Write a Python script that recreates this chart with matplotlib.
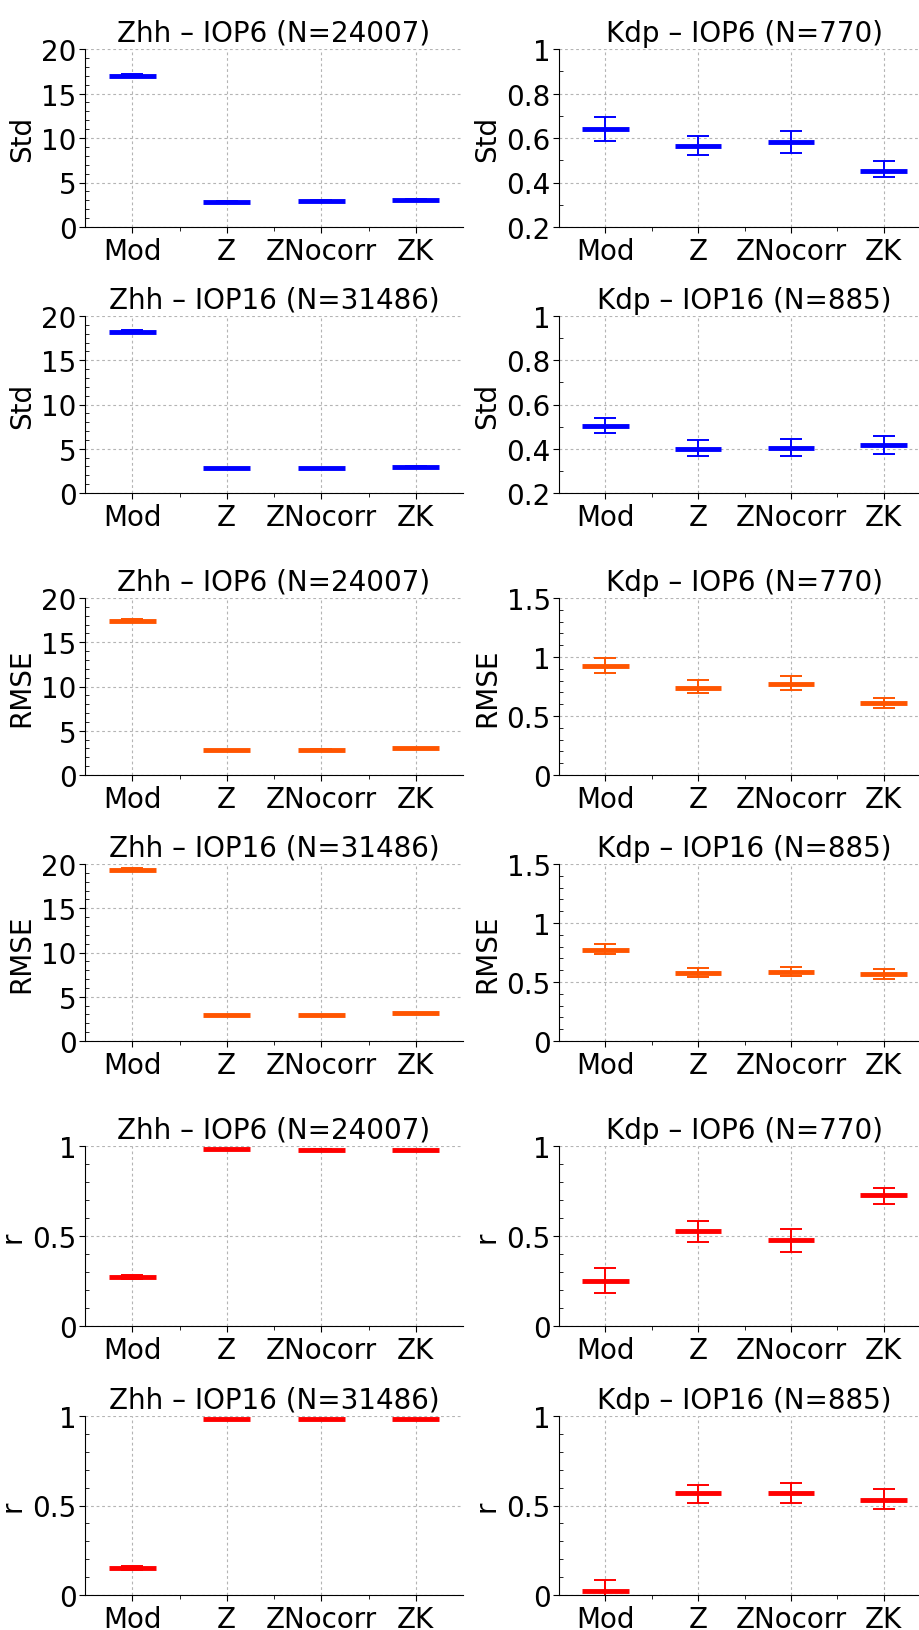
import matplotlib
matplotlib.use('Agg')
import matplotlib.pyplot as plt
from matplotlib.ticker import MultipleLocator, FormatStrFormatter, FixedLocator

categories = ['Mod', 'Z', 'ZNocorr', 'ZK']

# Zhh (mean, lower bound, upper bound)
std_zhh_iop6 = [17.0, 2.84, 2.95, 3.07]
std_zhh_iop6_lo = [16.82, 2.80, 2.91, 3.02]
std_zhh_iop6_hi = [17.18, 2.88, 2.99, 3.12]
std_zhh_iop16 = [18.23, 2.78, 2.82, 2.97]
std_zhh_iop16_lo = [18.05, 2.75, 2.79, 2.93]
std_zhh_iop16_hi = [18.41, 2.81, 2.85, 3.01]
rmse_zhh_iop6 = [17.44, 2.78, 2.86, 3.01]
rmse_zhh_iop6_lo = [17.26, 2.75, 2.83, 2.97]
rmse_zhh_iop6_hi = [17.62, 2.81, 2.89, 3.05]
rmse_zhh_iop16 = [19.36, 2.96, 2.96, 3.11]
rmse_zhh_iop16_lo = [19.18, 2.93, 2.93, 3.07]
rmse_zhh_iop16_hi = [19.54, 2.99, 2.99, 3.15]
r_zhh_iop6 = [0.271, 0.981, 0.980, 0.978]
r_zhh_iop6_lo = [0.261, 0.980, 0.979, 0.977]
r_zhh_iop6_hi = [0.281, 0.982, 0.981, 0.979]
r_zhh_iop16 = [0.151, 0.985, 0.985, 0.981]
r_zhh_iop16_lo = [0.141, 0.984, 0.984, 0.980]
r_zhh_iop16_hi = [0.161, 0.986, 0.986, 0.982]

# Kdp (mean, lower bound, upper bound)
std_kdp_iop6 = [0.641, 0.562, 0.580, 0.452]
std_kdp_iop6_lo = [0.586, 0.522, 0.534, 0.423]
std_kdp_iop6_hi = [0.694, 0.611, 0.633, 0.497]
std_kdp_iop16 = [0.504, 0.401, 0.403, 0.415]
std_kdp_iop16_lo = [0.471, 0.365, 0.369, 0.377]
std_kdp_iop16_hi = [0.540, 0.440, 0.445, 0.456]
rmse_kdp_iop6 = [0.926, 0.739, 0.773, 0.606]
rmse_kdp_iop6_lo = [0.867, 0.691, 0.720, 0.567]
rmse_kdp_iop6_hi = [0.989, 0.802, 0.839, 0.652]
rmse_kdp_iop16 = [0.775, 0.575, 0.584, 0.567]
rmse_kdp_iop16_lo = [0.739, 0.541, 0.547, 0.522]
rmse_kdp_iop16_hi = [0.820, 0.620, 0.626, 0.612]
r_kdp_iop6 = [0.249, 0.526, 0.478, 0.729]
r_kdp_iop6_lo = [0.186, 0.465, 0.411, 0.678]
r_kdp_iop6_hi = [0.325, 0.584, 0.539, 0.768]
r_kdp_iop16 = [0.022, 0.571, 0.571, 0.533]
r_kdp_iop16_lo = [-0.040, 0.513, 0.515, 0.480]
r_kdp_iop16_hi = [0.086, 0.617, 0.625, 0.591]

blue = '#0000ff'
orange = '#ff5500'
red = '#ff0000'

# (row, col, title, ylabel, mean, lo, hi, color, ylim, major step, minor step)
panels = [
    (0, 0, 'Zhh – IOP6 (N=24007)', 'Std', std_zhh_iop6, std_zhh_iop6_lo, std_zhh_iop6_hi, blue, (0, 20), 5, 1),
    (0, 1, 'Kdp – IOP6 (N=770)', 'Std', std_kdp_iop6, std_kdp_iop6_lo, std_kdp_iop6_hi, blue, (0.2, 1), 0.2, 0.1),
    (1, 0, 'Zhh – IOP16 (N=31486)', 'Std', std_zhh_iop16, std_zhh_iop16_lo, std_zhh_iop16_hi, blue, (0, 20), 5, 1),
    (1, 1, 'Kdp – IOP16 (N=885)', 'Std', std_kdp_iop16, std_kdp_iop16_lo, std_kdp_iop16_hi, blue, (0.2, 1), 0.2, 0.1),
    (2, 0, 'Zhh – IOP6 (N=24007)', 'RMSE', rmse_zhh_iop6, rmse_zhh_iop6_lo, rmse_zhh_iop6_hi, orange, (0, 20), 5, 1),
    (2, 1, 'Kdp – IOP6 (N=770)', 'RMSE', rmse_kdp_iop6, rmse_kdp_iop6_lo, rmse_kdp_iop6_hi, orange, (0, 1.5), 0.5, 0.1),
    (3, 0, 'Zhh – IOP16 (N=31486)', 'RMSE', rmse_zhh_iop16, rmse_zhh_iop16_lo, rmse_zhh_iop16_hi, orange, (0, 20), 5, 1),
    (3, 1, 'Kdp – IOP16 (N=885)', 'RMSE', rmse_kdp_iop16, rmse_kdp_iop16_lo, rmse_kdp_iop16_hi, orange, (0, 1.5), 0.5, 0.1),
    (4, 0, 'Zhh – IOP6 (N=24007)', 'r', r_zhh_iop6, r_zhh_iop6_lo, r_zhh_iop6_hi, red, (0, 1), 0.5, 0.1),
    (4, 1, 'Kdp – IOP6 (N=770)', 'r', r_kdp_iop6, r_kdp_iop6_lo, r_kdp_iop6_hi, red, (0, 1), 0.5, 0.1),
    (5, 0, 'Zhh – IOP16 (N=31486)', 'r', r_zhh_iop16, r_zhh_iop16_lo, r_zhh_iop16_hi, red, (0, 1), 0.5, 0.1),
    (5, 1, 'Kdp – IOP16 (N=885)', 'r', r_kdp_iop16, r_kdp_iop16_lo, r_kdp_iop16_hi, red, (0, 1), 0.5, 0.1),
]

W, H = 919, 1631
row_top = [50, 317, 599, 865, 1147, 1417]
row_bot = [228, 494, 776, 1042, 1327, 1596]
col_left = [85, 559]
col_right = [463, 930]

plt.rcParams['font.family'] = 'DejaVu Sans'
fig = plt.figure(figsize=(W / 100, H / 100), dpi=100)

xpos = [1, 2, 3, 4]
for row, col, title, ylab, mean, lo, hi, color, ylim, major, minor in panels:
    l, r = col_left[col], col_right[col]
    t, b = row_top[row], row_bot[row]
    ax = fig.add_axes([l / W, 1 - b / H, (r - l) / W, (b - t) / H])
    ax.set_axisbelow(True)
    ax.grid(True, which='major', linestyle=(0, (2.5, 2.5)), color='#b4b4b4', linewidth=0.8)
    err_lo = [m - v for m, v in zip(mean, lo)]
    err_hi = [v - m for m, v in zip(mean, hi)]
    ax.errorbar(xpos, mean, yerr=[err_lo, err_hi], fmt='none', ecolor=color,
                elinewidth=1.4, capsize=8, capthick=1.4)
    ax.hlines(mean, [x - 0.25 for x in xpos], [x + 0.25 for x in xpos],
              colors=color, linewidth=3.5)
    ax.set_xlim(0.5, 4.5)
    ax.set_ylim(*ylim)
    ax.set_xticks(xpos)
    ax.set_xticklabels(categories, fontsize=20)
    ax.xaxis.set_minor_locator(FixedLocator([1.5, 2.5, 3.5]))
    ax.yaxis.set_major_locator(MultipleLocator(major))
    ax.yaxis.set_minor_locator(MultipleLocator(minor))
    ax.yaxis.set_major_formatter(FormatStrFormatter('%g'))
    ax.tick_params(axis='y', which='major', labelsize=20, direction='out', length=4, pad=2)
    ax.tick_params(axis='y', which='minor', direction='in', length=3)
    ax.tick_params(axis='x', which='major', direction='out', length=4)
    ax.tick_params(axis='x', which='minor', direction='out', length=3)
    ax.spines['top'].set_visible(False)
    ax.spines['right'].set_visible(False)
    ax.set_ylabel(ylab, fontsize=20, labelpad=4)
    ax.set_title(title, fontsize=20)

fig.savefig('out.png', dpi=100)
